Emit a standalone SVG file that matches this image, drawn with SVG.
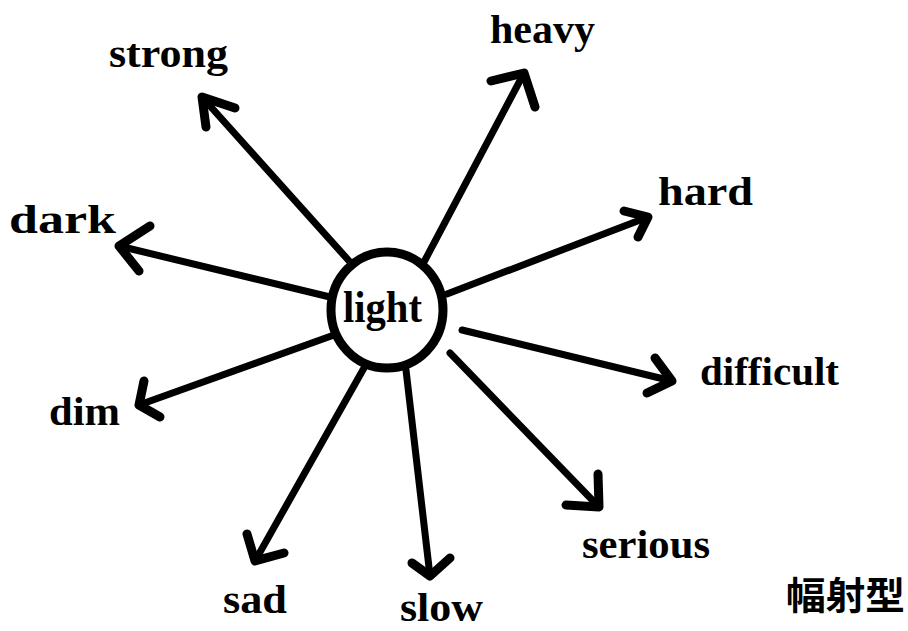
<svg xmlns="http://www.w3.org/2000/svg" width="908" height="631" viewBox="0 0 908 631">
<style>
.ln{fill:none;stroke:#000;stroke-width:7;stroke-linecap:round}
.hd{fill:none;stroke:#000;stroke-width:9;stroke-linecap:round;stroke-linejoin:round}
.lb{font-family:"Liberation Serif","DejaVu Serif",serif;font-weight:bold;font-size:40px;fill:#000}
.cj{font-family:"Noto Sans CJK SC","Noto Sans CJK JP",sans-serif;font-weight:bold;font-size:38px;fill:#000}
</style>
<rect width="908" height="631" fill="#fff"/>
<g id="connectors">
<path class="ln" d="M350 262 L202 97"/><path class="hd" d="M235 108 L202 97 L206 127"/>
<path class="ln" d="M424 262 L524 73"/><path class="hd" d="M491 81 L524 73 L535 107"/>
<path class="ln" d="M447 294 L648 217"/><path class="hd" d="M624 211 L648 217 L638 237"/>
<path class="ln" d="M330 297 L119 246"/><path class="hd" d="M150 226 L119 246 L139 271"/>
<path class="ln" d="M334 335 L139 405"/><path class="hd" d="M144 381 L139 405 L160 417"/>
<path class="ln" d="M364 368 L255 561"/><path class="hd" d="M247 534 L255 561 L284 553"/>
<path class="ln" d="M406 370 L430 576"/><path class="hd" d="M412 563 L430 576 L450 558"/>
<path class="ln" d="M462 330 L672 381"/><path class="hd" d="M655 358 L672 381 L647 393"/>
<path class="ln" d="M450 353 L599 507"/><path class="hd" d="M598 474 L599 507 L566 505"/>
</g>
<g id="node-light">
<ellipse cx="387" cy="310" rx="56" ry="58" fill="#fff" stroke="#000" stroke-width="9"/>
<text class="lb" x="343" y="322" style="font-size:45px" textLength="79" lengthAdjust="spacingAndGlyphs">light</text>
</g>
<g id="node-strong"><text class="lb" x="109" y="67" textLength="119" lengthAdjust="spacingAndGlyphs">strong</text></g>
<g id="node-heavy"><text class="lb" x="490" y="43" textLength="105" lengthAdjust="spacingAndGlyphs">heavy</text></g>
<g id="node-hard"><text class="lb" x="658" y="205" textLength="95" lengthAdjust="spacingAndGlyphs">hard</text></g>
<g id="node-dark"><text class="lb" x="9" y="233" textLength="107" lengthAdjust="spacingAndGlyphs">dark</text></g>
<g id="node-difficult"><text class="lb" x="700" y="385" textLength="139" lengthAdjust="spacingAndGlyphs">difficult</text></g>
<g id="node-serious"><text class="lb" x="582" y="558" textLength="128" lengthAdjust="spacingAndGlyphs">serious</text></g>
<g id="node-dim"><text class="lb" x="49" y="425" textLength="71" lengthAdjust="spacingAndGlyphs">dim</text></g>
<g id="node-sad"><text class="lb" x="223" y="613" textLength="64" lengthAdjust="spacingAndGlyphs">sad</text></g>
<g id="node-slow"><text class="lb" x="400" y="621" textLength="83" lengthAdjust="spacingAndGlyphs">slow</text></g>
<g id="caption"><text class="cj" x="786" y="609" textLength="119" lengthAdjust="spacingAndGlyphs">幅射型</text></g>
</svg>
